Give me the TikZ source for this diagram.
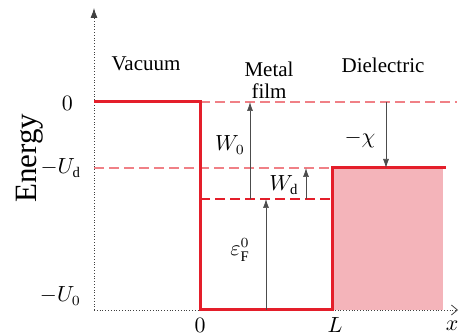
\documentclass[tikz,border=0pt]{standalone}
\usepackage{fontspec}
\setmainfont{Liberation Serif}
\definecolor{barrier}{RGB}{228,30,42}
\definecolor{dashpink}{RGB}{240,128,134}
\definecolor{dielfill}{RGB}{244,180,186}
\usetikzlibrary{arrows.meta}

\begin{document}
\begin{tikzpicture}[x=0.5pt, y=-0.5pt, font=\fontsize{10.5}{12}\selectfont,
    axis/.style={densely dotted, black!75, line width=0.4pt},
    wall/.style={draw=barrier, line width=1.5pt, line join=miter},
    elevel/.style={color=dashpink, line width=0.6pt, dash pattern=on 5pt off 2.5pt},
    gap/.style={-{Latex[length=4.5pt, width=3pt]}, black!70, line width=0.35pt}]
    \useasboundingbox (0,0) rectangle (459,335);
    % Các điểm của giếng thế
    \coordinate (O) at (94,310);
    \coordinate (ytip) at (94,8);
    \coordinate (xtip) at (458,310);
    \coordinate (vac) at (94,102);
    \coordinate (wallAtop) at (200,102);
    \coordinate (wallAbot) at (200,310);
    \coordinate (wallBbot) at (332,310);
    \coordinate (wallBtop) at (332,168);
    \coordinate (dielend) at (446,168);
    \coordinate (Udleft) at (94,168);
    \coordinate (zeroend) at (457,102);
    \coordinate (fermiA) at (200,199);
    \coordinate (fermiB) at (330,199);
    % Điện môi
    \fill[dielfill] (wallBtop) rectangle (443,310);
    % Các mức năng lượng
    \draw[elevel] (wallAtop) -- (zeroend);
    \draw[elevel] (Udleft) -- (wallBtop);
    \draw[elevel, color=barrier] (fermiA) -- (fermiB);
    % Trục tọa độ
    \draw[axis, -{Latex[length=5pt, width=3.5pt]}] (O) -- (ytip);
    \draw[axis, -{Straight Barb[length=3pt, width=5pt]}] (O) -- (xtip);
    % Giếng thế
    \draw[wall] (vac) -- (wallAtop) -- (wallAbot) -- (wallBbot) -- (wallBtop) -- (dielend);
    % Các khoảng năng lượng
    \coordinate (w0bot) at (250,199);
    \coordinate (w0top) at (250,102);
    \coordinate (wdbot) at (306,199);
    \coordinate (wdtop) at (306,168);
    \coordinate (efbot) at (266,310);
    \coordinate (eftop) at (266,199);
    \coordinate (chitop) at (386,102);
    \coordinate (chibot) at (386,168);
    \draw[gap] (w0bot) -- (w0top);
    \draw[gap] (wdbot) -- (wdtop);
    \draw[gap] (efbot) -- (eftop);
    \draw[gap] (chitop) -- (chibot);
    % Nhãn
    \node (vacuum) at (146,64) {Vacuum};
    \node[align=center, inner sep=0pt] (metal) at (269,80) {Metal\\[-1pt]film};
    \node (dielec) at (383,65) {Dielectric};
    \node[rotate=90, font=\fontsize{15.5}{18}\selectfont] (energy) at (30,158) {Energy};
    \node[anchor=east] (lzero) at (80,103) {$0$};
    \node[anchor=east] (lUd) at (88,168) {$-U_{\mathrm{d}}$};
    \node[anchor=east] (lU0) at (88,296) {$-U_{0}$};
    \node (xzero) at (200,325) {$0$};
    \node (xL) at (335,325) {$L$};
    \node (xx) at (452,326) {$x$};
    \node (lW0) at (230,145) {$W_{0}$};
    \node (lWd) at (284,185) {$W_{\mathrm{d}}$};
    \node[inner sep=1pt] (lef) at (240,250) {$\varepsilon_{\mathrm{F}}^{0}$};
    \node (lchi) at (360,139) {$-\chi$};
\end{tikzpicture}
\end{document}
